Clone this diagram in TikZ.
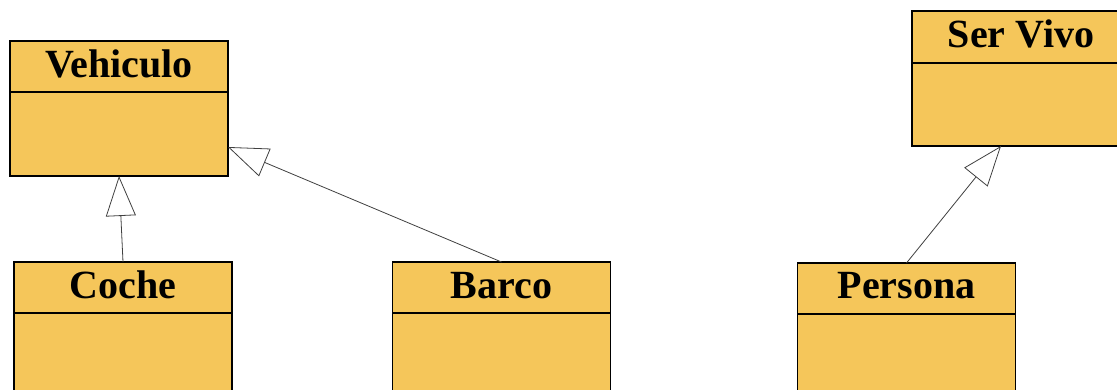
\documentclass[tikz,border=0pt]{standalone}
\usepackage{fontspec}
\setmainfont{Liberation Serif}
\usetikzlibrary{arrows.meta,calc}
\definecolor{classfill}{RGB}{245,198,90}
\begin{document}
\begin{tikzpicture}[x=1pt,y=-1pt,
 classbox/.style={draw=black,line width=1.3pt,fill=classfill,minimum width=218pt,minimum height=135pt,inner sep=0pt,outer sep=0pt},
 classname/.style={font=\bfseries\fontsize{40}{40}\selectfont,anchor=base,inner sep=0pt},
 divider/.style={draw=black,line width=1.3pt},
 inherit/.style={draw=black!75,line width=0.8pt,-{Triangle[open,length=40pt,width=30pt,fill=white]}}]
\useasboundingbox (0,0) rectangle (1117,389);
\clip (0,0) rectangle (1117,389);
\fill[white] (0,0) rectangle (1117,389);
% classes
\node[classbox] (veh) at (119,108.5) {};
\node[classbox] (coche) at (123,329.5) {};
\node[classbox] (barco) at (501.5,329.5) {};
\node[classbox] (persona) at (906.5,330.5) {};
\node[classbox] (servivo) at (1021,78.5) {};
% dividers
\foreach \n/\d in {veh/51,coche/51,barco/51,persona/51,servivo/52}{
  \draw[divider] ($(\n.north west)+(0,\d)$) -- ($(\n.north east)+(0,\d)$);
}
% names
\node[classname] (vehname) at ($(veh.north)+(0,36)$) {Vehiculo};
\node[classname] (cochename) at ($(coche.north)+(0,36)$) {Coche};
\node[classname] (barconame) at ($(barco.north)+(0,36)$) {Barco};
\node[classname] (personaname) at ($(persona.north)+(0,35)$) {Persona};
\node[classname] (servivoname) at ($(servivo.north)+(0,36)$) {Ser Vivo};
% inheritance
\draw[inherit] (coche.north) -- (veh.south);
\draw[inherit] (barco.north) -- ($(veh.south east)+(0,-29)$);
\draw[inherit] (persona.north) -- ($(servivo.south west)+(89,0)$);
\end{tikzpicture}
\end{document}
